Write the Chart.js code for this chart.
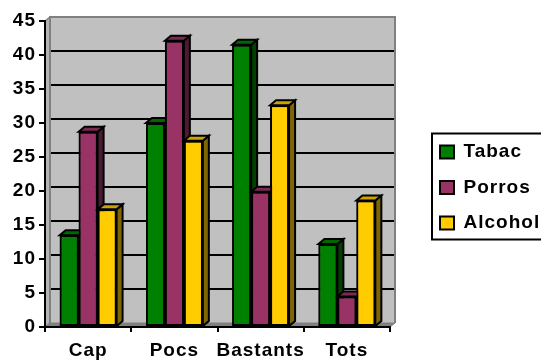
<!DOCTYPE html>
<html><head><meta charset="utf-8">
<script src="https://cdn.jsdelivr.net/npm/chart.js@4/dist/chart.umd.min.js"></script>
<style>html,body{margin:0;padding:0;background:#fff;overflow:hidden}canvas{display:block}</style>
</head><body>
<canvas id="c" width="541" height="360"></canvas>
<script>
// ---- data ----
const categories = ['Cap', 'Pocs', 'Bastants', 'Tots'];
const seriesNames = ['Tabac', 'Porros', 'Alcohol'];
const tabac   = [13.5, 30.0, 41.5, 12.2];
const porros  = [28.7, 42.1, 19.9, 4.5];
const alcohol = [17.3, 27.4, 32.6, 18.6];
const yMin = 0, yMax = 45, yStep = 5;

// ---- styles ----
const frontColors = ['#008000', '#993366', '#FFCC00'];
const topColors   = ['#006600', '#7A2952', '#CCA300'];
const sideColors  = ['#004000', '#4D1A33', '#806600'];
const FONT = {family: "'Liberation Sans', Arial, sans-serif", size: 19, weight: 'bold'};

function poly(ctx, pts, fill, stroke, lw) {
  ctx.beginPath();
  ctx.moveTo(pts[0][0], pts[0][1]);
  for (let k = 1; k < pts.length; k++) ctx.lineTo(pts[k][0], pts[k][1]);
  ctx.closePath();
  if (fill) { ctx.fillStyle = fill; ctx.fill(); }
  if (stroke) { ctx.strokeStyle = stroke; ctx.lineWidth = lw || 2; ctx.stroke(); }
}

const threeD = {
  id: 'threeD',
  beforeLayout(chart) {
    chart.ctx.letterSpacing = '1px';
    const lg = chart.legend;
    if (lg && !lg._patched) {
      const f = lg.fit;
      lg.fit = function () { f.call(this); if (this.options.display) this.width = 151; };
      lg._patched = true;
    }
  },
  afterLayout(chart) {
    const lg = chart.legend;
    lg.left += 33.5; lg.right += 33.5; lg.top -= 3; lg.bottom -= 3;
  },
  beforeDraw(chart) {
    const {ctx, chartArea: ca, scales: {y}} = chart;
    ctx.letterSpacing = '1px';
    const L = ca.left, R = ca.right, T = ca.top, B = ca.bottom, dx = 5, dy = 4;
    ctx.save();
    ctx.lineJoin = 'miter';
    ctx.fillStyle = '#C0C0C0';
    ctx.fillRect(L + dx, T - dy, R - L, B - T);
    poly(ctx, [[L, T], [L + dx, T - dy], [L + dx, B - dy], [L, B]], '#B4B4B4', '#808080', 1.5);
    poly(ctx, [[L, B], [L + dx, B - dy], [R + dx, B - dy], [R, B]], '#808080', '#808080', 1);
    ctx.strokeStyle = '#000'; ctx.lineWidth = 2;
    y.ticks.forEach(t => {
      if (t.value === yMin || t.value === yMax) return;
      const py = y.getPixelForValue(t.value) - dy;
      ctx.beginPath(); ctx.moveTo(L + dx, py); ctx.lineTo(R + dx, py); ctx.stroke();
    });
    ctx.strokeStyle = '#808080'; ctx.lineWidth = 2;
    ctx.beginPath();
    ctx.moveTo(L + dx, B - dy); ctx.lineTo(L + dx, T - dy); ctx.lineTo(R + dx, T - dy); ctx.lineTo(R + dx, B - dy);
    ctx.stroke();
    ctx.restore();
  },
  afterDatasetsDraw(chart) {
    const {ctx} = chart;
    const dx = 6, dy = 5;
    const metas = chart.data.datasets.map((d, i) => chart.getDatasetMeta(i));
    ctx.save();
    ctx.lineJoin = 'miter';
    for (let j = 0; j < categories.length; j++) {
      for (let i = 0; i < metas.length; i++) {
        const el = metas[i].data[j];
        if (!el) continue;
        el.draw(ctx);
        const p = el.getProps(['x', 'y', 'base', 'width'], true);
        const l = p.x - p.width / 2, r = p.x + p.width / 2, top = Math.min(p.y, p.base), bot = Math.max(p.y, p.base);
        poly(ctx, [[r, top], [r + dx, top - dy], [r + dx, bot - dy], [r, bot]], sideColors[i], '#000', 2);
        poly(ctx, [[l, top], [l + dx, top - dy], [r + dx, top - dy], [r, top]], topColors[i], '#000', 2);
      }
    }
    ctx.restore();
  },
  afterDraw(chart) {
    const {ctx} = chart;
    const hb = chart.legend.legendHitBoxes;
    if (!hb || !hb.length) return;
    const x0 = hb[0].left - 8, y0 = hb[0].top - 9;
    const last = hb[hb.length - 1];
    const y1 = last.top + last.height + 7;
    ctx.save();
    ctx.strokeStyle = '#000'; ctx.lineWidth = 2;
    ctx.strokeRect(x0, y0, 200, y1 - y0);
    ctx.restore();
  }
};

const seriesValues = [tabac, porros, alcohol];
new Chart(document.getElementById('c'), {
  type: 'bar',
  data: {
    labels: categories,
    datasets: seriesValues.map((vals, i) => ({
      label: seriesNames[i],
      data: vals,
      backgroundColor: frontColors[i],
      borderColor: '#000',
      borderWidth: 2,
      borderSkipped: false,
      categoryPercentage: 0.66,
      barPercentage: 1.0
    }))
  },
  options: {
    responsive: false,
    devicePixelRatio: 1,
    animation: false,
    events: [],
    layout: {padding: {top: 21, left: 0, right: 0, bottom: 0}},
    plugins: {
      tooltip: {enabled: false},
      title: {display: false},
      legend: {
        display: true,
        position: 'right',
        labels: {
          font: FONT, color: '#000',
          boxWidth: 14, boxHeight: 13, padding: 16.5
        }
      }
    },
    scales: {
      x: {
        offset: true,
        grid: {display: true, drawOnChartArea: false, drawTicks: true, tickLength: 5, color: '#000', lineWidth: 2, offset: true},
        border: {display: true, color: '#000', width: 2},
        ticks: {font: FONT, color: '#000', padding: 7, maxRotation: 0, autoSkip: false},
        afterFit(s) { s.height = 33; }
      },
      y: {
        min: yMin, max: yMax,
        grid: {display: true, drawOnChartArea: false, drawTicks: true, tickLength: 6, color: '#000', lineWidth: 2},
        border: {display: true, color: '#000', width: 2},
        ticks: {stepSize: yStep, font: FONT, color: '#000', padding: 3},
        afterFit(s) { s.width = 45; }
      }
    }
  },
  plugins: [threeD]
});
</script>
</body></html>
